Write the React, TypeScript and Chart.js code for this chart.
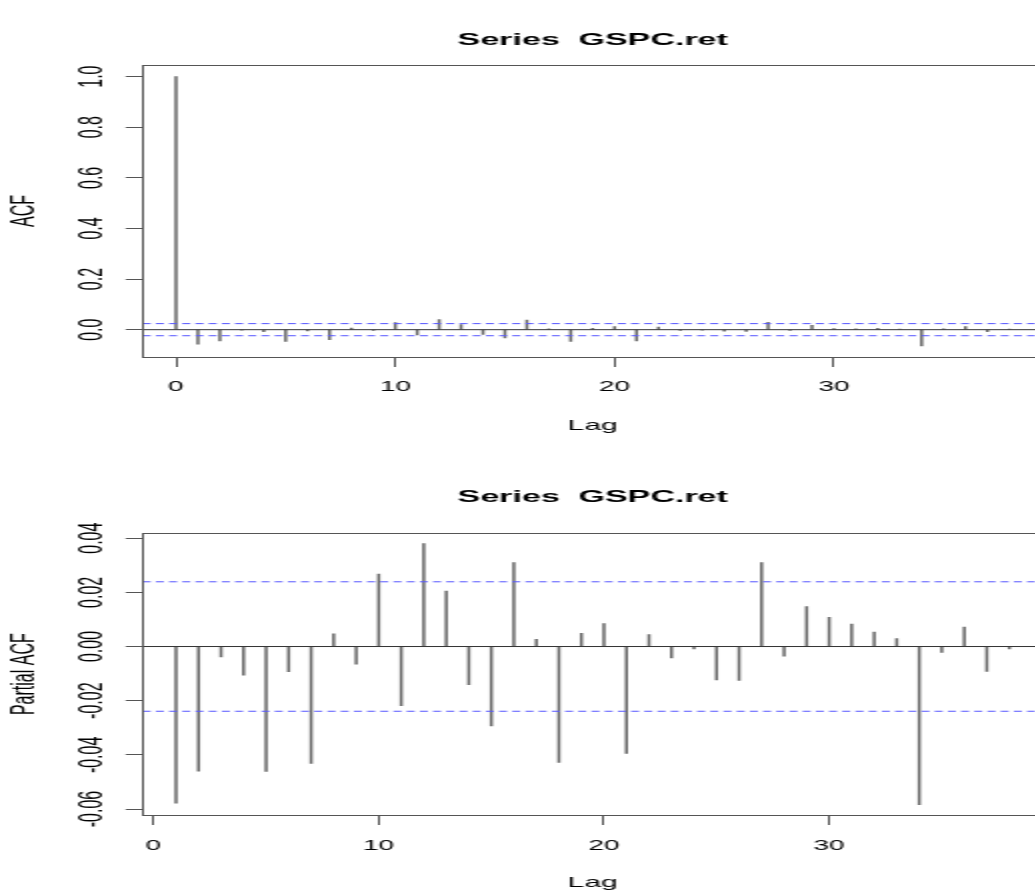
import React, { useEffect, useRef } from "react";
import { Chart, registerables } from "chart.js";

Chart.register(...registerables);

// ---------- data ----------
const acfLags = [0, 1, 2, 3, 4, 5, 6, 7, 8, 9, 10, 11, 12, 13, 14, 15, 16, 17, 18, 19, 20, 21, 22, 23, 24, 25, 26, 27, 28, 29, 30, 31, 32, 33, 34, 35, 36, 37, 38];
const acfValues = [1.0, -0.057, -0.044, -0.002, -0.008, -0.046, -0.005, -0.040, 0.006, -0.003, 0.028, -0.021, 0.040, 0.020, -0.019, -0.033, 0.038, 0.003, -0.046, 0.005, 0.012, -0.044, 0.010, -0.003, -0.002, -0.006, -0.007, 0.029, -0.003, 0.017, 0.004, 0.003, 0.005, 0.002, -0.064, 0.003, 0.012, -0.008, 0.002];

const pacfLags = [1, 2, 3, 4, 5, 6, 7, 8, 9, 10, 11, 12, 13, 14, 15, 16, 17, 18, 19, 20, 21, 22, 23, 24, 25, 26, 27, 28, 29, 30, 31, 32, 33, 34, 35, 36, 37, 38];
const pacfValues = [-0.0578, -0.046, -0.0038, -0.0106, -0.0461, -0.0093, -0.0432, 0.0047, -0.0065, 0.0267, -0.0218, 0.038, 0.0205, -0.0141, -0.0293, 0.031, 0.0027, -0.0428, 0.0049, 0.0085, -0.0395, 0.0044, -0.0042, -0.0009, -0.0123, -0.0125, 0.031, -0.0036, 0.0147, 0.0108, 0.0083, 0.0053, 0.0029, -0.0584, -0.0022, 0.0072, -0.0092, -0.0009];

const confLimit = 0.0239;

const xTicks = [0, 10, 20, 30];
const acfYTicks = [0, 0.2, 0.4, 0.6, 0.8, 1.0];
const pacfYTicks = [-0.06, -0.04, -0.02, 0, 0.02, 0.04];

const acfXRange = [-1.52, 39.52];
const pacfXRange = [-0.48, 39.48];
const acfYRange = [-0.108, 1.046];
const pacfYRange = [-0.0622, 0.0418];

const titleText = "Series  GSPC.ret";

// ---------- layout (canvas is drawn narrow and stretched 2x horizontally) ----------
const STRETCH = 2;
const CW = 540;
const CH = 448;
const FAMILY = '"Liberation Sans", Arial, Helvetica, sans-serif';

Chart.defaults.font.family = FAMILY;
Chart.defaults.color = "#000";

const boxPlugin = {
  id: "rbox",
  afterDraw(chart: any) {
    const { ctx, chartArea } = chart;
    const l = Math.round(chartArea.left) + 0.5;
    const t = Math.round(chartArea.top) + 0.5;
    const r = Math.round(chartArea.right) + 0.5;
    const b = Math.round(chartArea.bottom) + 0.5;
    ctx.save();
    ctx.strokeStyle = "#555";
    ctx.lineWidth = 1;
    ctx.strokeRect(l, t, r - l, b - t);
    ctx.restore();
  },
};

type Cfg = {
  lags: number[];
  values: number[];
  xRange: number[];
  yRange: number[];
  yTicks: number[];
  yDigits: number;
  yTitle: string;
  yTickPadding: number;
  titlePad: { top: number; bottom: number };
  xAxisHeight: number;
  xTickPadding: number;
  xTitleBottom: number;
};

const CI_COLOR = "rgb(85,85,255)";

function makeConfig(c: Cfg): any {
  const [xmin, xmax] = c.xRange;
  return {
    type: "bar",
    data: {
      datasets: [
        {
          type: "line",
          data: [{ x: xmin, y: confLimit }, { x: xmax, y: confLimit }],
          borderColor: CI_COLOR,
          borderWidth: 1,
          borderDash: [4, 2.6],
          pointRadius: 0,
          order: 0,
        },
        {
          type: "line",
          data: [{ x: xmin, y: -confLimit }, { x: xmax, y: -confLimit }],
          borderColor: CI_COLOR,
          borderWidth: 1,
          borderDash: [4, 2.6],
          pointRadius: 0,
          order: 0,
        },
        {
          type: "line",
          data: [{ x: xmin, y: 0 }, { x: xmax, y: 0 }],
          borderColor: "#333",
          borderWidth: 1,
          pointRadius: 0,
          order: 1,
        },
        {
          type: "bar",
          data: c.lags.map((l, i) => ({ x: l, y: c.values[i] })),
          backgroundColor: "#666",
          borderWidth: 0,
          barThickness: 0.85,
          grouped: false,
          order: 2,
        },
      ],
    },
    options: {
      responsive: false,
      animation: false,
      devicePixelRatio: 1,
      events: [],
      layout: { padding: { left: 0, top: 0, right: CW - 1042.7 / STRETCH, bottom: 0 } },
      plugins: {
        legend: { display: false },
        tooltip: { enabled: false },
        title: {
          display: true,
          text: titleText,
          fullSize: false,
          color: "#000",
          font: { size: 17, weight: "bold", family: FAMILY },
          padding: c.titlePad,
        },
      },
      scales: {
        x: {
          type: "linear",
          min: xmin,
          max: xmax,
          offset: false,
          afterBuildTicks: (s: any) => {
            s.ticks = xTicks.map((v) => ({ value: v }));
          },
          afterFit: (s: any) => {
            s.height = c.xAxisHeight;
          },
          grid: {
            display: true,
            offset: false,
            drawOnChartArea: false,
            drawTicks: true,
            tickLength: 10,
            tickColor: "#555",
          },
          border: { display: false },
          ticks: {
            autoSkip: false,
            minRotation: 0,
            maxRotation: 0,
            padding: c.xTickPadding,
            color: "#000",
            font: { size: 14, family: FAMILY },
            callback: (v: any) => String(v),
          },
          title: {
            display: true,
            text: "Lag",
            color: "#000",
            font: { size: 15, family: FAMILY },
            padding: { top: 0, bottom: c.xTitleBottom },
          },
        },
        y: {
          type: "linear",
          min: c.yRange[0],
          max: c.yRange[1],
          afterBuildTicks: (s: any) => {
            s.ticks = c.yTicks.map((v) => ({ value: v }));
          },
          afterFit: (s: any) => {
            s.width = 142.7 / STRETCH;
          },
          grid: {
            display: true,
            drawOnChartArea: false,
            drawTicks: true,
            tickLength: 8.5,
            tickColor: "#555",
          },
          border: { display: false },
          ticks: {
            autoSkip: false,
            minRotation: 90,
            maxRotation: 90,
            crossAlign: "center",
            padding: c.yTickPadding,
            color: "#000",
            font: { size: 16, family: FAMILY },
            callback: (v: any) => Number(v).toFixed(c.yDigits),
          },
          title: {
            display: true,
            text: c.yTitle,
            color: "#000",
            font: { size: 16, family: FAMILY },
            padding: { top: 3.2, bottom: 0 },
          },
        },
      },
    },
    plugins: [boxPlugin],
  };
}

const topCfg: Cfg = {
  lags: acfLags,
  values: acfValues,
  xRange: acfXRange,
  yRange: acfYRange,
  yTicks: acfYTicks,
  yDigits: 1,
  yTitle: "ACF",
  yTickPadding: 5.2,
  titlePad: { top: 29.8, bottom: 14.8 },
  xAxisHeight: CH - 357,
  xTickPadding: 12.1,
  xTitleBottom: 13,
};

const bottomCfg: Cfg = {
  lags: pacfLags,
  values: pacfValues,
  xRange: pacfXRange,
  yRange: pacfYRange,
  yTicks: pacfYTicks,
  yDigits: 2,
  yTitle: "Partial ACF",
  yTickPadding: -1.9,
  titlePad: { top: 38.8, bottom: 26.1 },
  xAxisHeight: CH - 367,
  xTickPadding: 12.6,
  xTitleBottom: 4,
};

export default function App() {
  const topRef = useRef<HTMLCanvasElement | null>(null);
  const botRef = useRef<HTMLCanvasElement | null>(null);

  useEffect(() => {
    if (!topRef.current || !botRef.current) return;
    const c1 = new Chart(topRef.current, makeConfig(topCfg));
    const c2 = new Chart(botRef.current, makeConfig(bottomCfg));
    return () => {
      c1.destroy();
      c2.destroy();
    };
  }, []);

  const cStyle: React.CSSProperties = {
    display: "block",
    width: `${CW * STRETCH}px`,
    height: `${CH}px`,
  };

  return (
    <div
      style={{
        position: "absolute",
        left: 0,
        top: 0,
        width: 1035,
        height: 896,
        overflow: "hidden",
        background: "#fff",
      }}
    >
      <canvas ref={topRef} width={CW} height={CH} style={cStyle} />
      <canvas ref={botRef} width={CW} height={CH} style={cStyle} />
    </div>
  );
}
